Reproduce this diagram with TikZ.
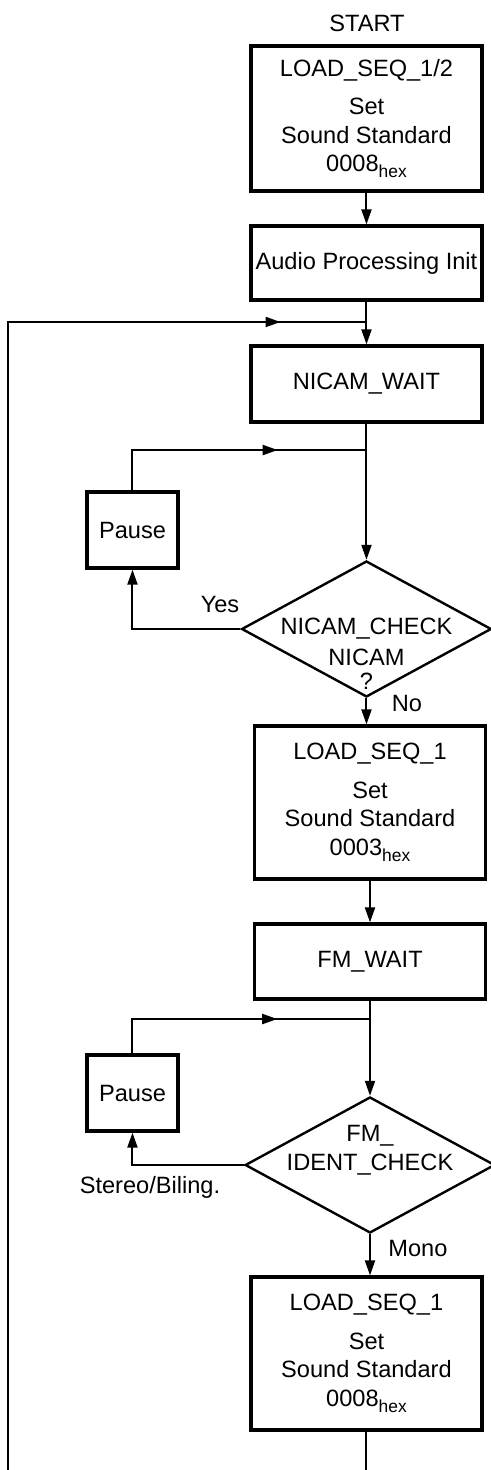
\documentclass[tikz,border=0pt]{standalone}
\usepackage{fontspec}
\setmainfont{Liberation Sans}
\usepackage{tikz}
\usetikzlibrary{arrows.meta}
\usetikzlibrary{shapes.geometric}
\usetikzlibrary{decorations.markings}
\newcommand{\hexval}[1]{#1\raisebox{-3pt}{\fontsize{8.7}{9}\selectfont hex}}
\tikzset{
   every node/.append style={font=\fontsize{11.8}{14.3}\selectfont},
   >={Triangle[length=7.5pt,width=5pt]},
   box/.style={draw=black, line width=1.6pt, rectangle,
      minimum width=4.06cm, align=center, inner sep=0pt},
   decision/.style={draw=black, line width=1.2pt, diamond, aspect=1.84,
      minimum width=4.39cm, minimum height=2.39cm, inner sep=0pt},
   flow/.style={draw=black, line width=1pt, ->},
   wire/.style={draw=black, line width=1pt},
   loopline/.style={draw=black, line width=1pt, postaction={decorate},
      decoration={markings,mark=at position -#1 with{\arrow[draw=black]{>}}}},
    }
\begin{document}
\begin{tikzpicture}[scale=1]
       \useasboundingbox (0,0) rectangle (8.628,-25.832);
       \node (start) at (6.449,-0.404) {START};
       \node[box, minimum height=2.55cm] (load12) at (6.44,-2.082)
          {LOAD\_SEQ\_1/2\\[5pt]Set\\Sound Standard\\\hexval{0008}};
       \node[box, minimum height=1.30cm] (init) at (6.44,-4.622) {Audio Processing Init};
       \node[box, minimum height=1.336cm] (nwait) at (6.44,-6.748) {NICAM\_WAIT};
       \node[box, minimum width=1.6cm, minimum height=1.336cm] (pause1) at (2.328,-9.314) {Pause};
       \node[decision, label={[name=nicamq, align=center, yshift=-0.71cm]center:NICAM\\[-2pt]?}]
          (ncheck) at (6.44,-11.053) {NICAM\_CHECK};
       \node[box, minimum height=2.689cm] (load1) at (6.502,-14.102)
          {LOAD\_SEQ\_1\\[5pt]Set\\Sound Standard\\\hexval{0003}};
       \node[box, minimum height=1.318cm] (fwait) at (6.502,-16.896) {FM\_WAIT};
       \node[box, minimum width=1.6cm, minimum height=1.336cm] (pause2) at (2.328,-19.207) {Pause};
       \node[decision, label={[name=fmq, yshift=0.51cm]center:FM\_}]
          (fcheck) at (6.502,-20.472) {IDENT\_CHECK};
       \node[box, minimum height=2.689cm] (load2) at (6.44,-23.785)
          {LOAD\_SEQ\_1\\[5pt]Set\\Sound Standard\\\hexval{0008}};
       \node (yes) at (3.866,-10.614) {Yes};
       \node (no) at (7.152,-12.354) {No};
       \node (stereo) at (2.636,-20.859) {Stereo/Biling.};
       \node (mono) at (7.345,-21.931) {Mono};
       \coordinate (J1) at (6.44,-5.658);
       \coordinate (J2) at (6.44,-7.908);
       \coordinate (J3) at (6.502,-17.907);
       \coordinate (lbot) at (0.141,-25.832);
       \coordinate (obot) at (6.44,-25.832);
       \draw[flow](load12)to(init);
       \draw[flow](init)to(nwait);
       \draw[loopline=1.51cm](lbot)|-(J1);
       \draw[flow](nwait)to(ncheck);
       \draw[flow](ncheck.west)-|(pause1.south);
       \draw[loopline=1.56cm](pause1.north)|-(J2);
       \draw[flow](ncheck.south)to(ncheck.south |- load1.north);
       \draw[flow](load1)to(fwait);
       \draw[flow](fwait)to(fcheck);
       \draw[flow](fcheck.west)-|(pause2.south);
       \draw[loopline=1.63cm](pause2.north)|-(J3);
       \draw[flow](fcheck.south)to(fcheck.south |- load2.north);
       \draw[wire](load2.south)to(obot);
   \end{tikzpicture}
\end{document}
